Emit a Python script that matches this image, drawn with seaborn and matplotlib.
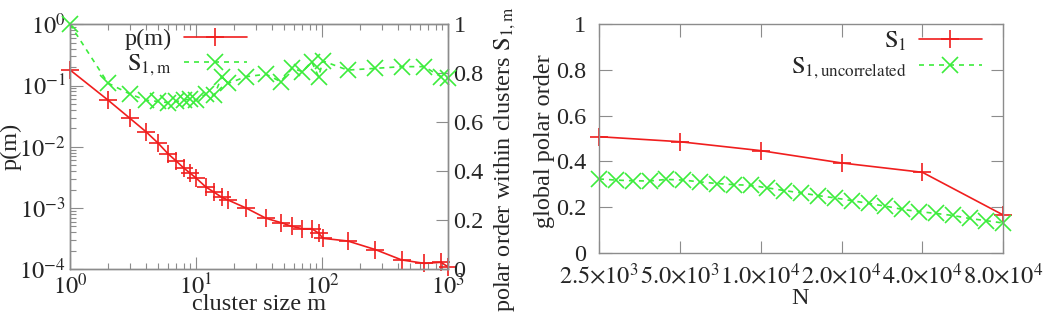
import matplotlib
matplotlib.use("Agg")
import matplotlib.pyplot as plt
import seaborn as sns
import pandas as pd
from matplotlib.ticker import FixedLocator, FixedFormatter, LogLocator, NullFormatter

# ---------------- data ----------------
m_size = [1, 2, 3, 4, 5, 6, 7, 8, 9, 10, 12, 14, 16, 18, 25, 36, 47, 58, 70, 83,
          94, 102, 160, 265, 430, 650, 880, 1000]
p_m = [0.18, 0.058, 0.029, 0.0177, 0.0115, 0.0077, 0.0058, 0.0045, 0.0037, 0.0031,
       0.0022, 0.0018, 0.0015, 0.00135, 0.001, 0.00068, 0.00058, 0.0005, 0.00046,
       0.00046, 0.00039, 0.00032, 0.00029, 0.00021, 0.000142, 0.000125, 0.00013, 0.00011]
s1_m = [1.0, 0.76, 0.715, 0.69, 0.685, 0.68, 0.685, 0.69, 0.695, 0.69, 0.715, 0.71,
        0.786, 0.759, 0.786, 0.796, 0.766, 0.82, 0.807, 0.847, 0.786, 0.85, 0.813,
        0.82, 0.827, 0.827, 0.786, 0.78]

N_main = [2500, 5000, 10000, 20000, 40000, 80000]
S1 = [0.508, 0.486, 0.447, 0.393, 0.352, 0.165]
N_unc = [2500, 2888, 3337, 3856, 4455, 5146, 5946, 6870, 7937, 9170, 10595, 12241,
         14142, 16339, 18877, 21810, 25198, 29113, 33636, 38861, 44898, 51874,
         59932, 69243, 80000]
S1_unc = [0.323, 0.318, 0.315, 0.314, 0.321, 0.318, 0.31, 0.303, 0.298, 0.295,
          0.284, 0.272, 0.262, 0.25, 0.24, 0.228, 0.216, 0.204, 0.19, 0.18, 0.172,
          0.163, 0.15, 0.14, 0.13]

N_ticklabels = [r"$2.5{\times}10^{3}$", r"$5.0{\times}10^{3}$", r"$1.0{\times}10^{4}$",
                r"$2.0{\times}10^{4}$", r"$4.0{\times}10^{4}$", r"$8.0{\times}10^{4}$"]
logy_ticklabels = [r"$10^{-4}$", r"$10^{-3}$", r"$10^{-2}$", r"$10^{-1}$", r"$10^{0}$"]
logx_ticklabels = [r"$10^{0}$", r"$10^{1}$", r"$10^{2}$", r"$10^{3}$"]
lin_ticklabels = ["0", "0.2", "0.4", "0.6", "0.8", "1"]

# ---------------- style ----------------
sns.set_style("ticks")
plt.rcParams["font.family"] = ["Liberation Serif", "DejaVu Serif"]
plt.rcParams["mathtext.fontset"] = "stix"
plt.rcParams["axes.unicode_minus"] = False

RED = "#f01e1e"
GREEN = "#3cec3c"
SPINE = "#8c8c8c"
FS = 17.5

fig = plt.figure(figsize=(10.49, 3.17), dpi=100)
ax1 = fig.add_axes([0.0667, 0.1505, 0.3603, 0.773])
ax2 = ax1.twinx()
ax3 = fig.add_axes([0.571, 0.2028, 0.3854, 0.7205])

df_p = pd.DataFrame({"m": m_size, "p": p_m, "S": s1_m})
df_n = pd.DataFrame({"N": N_main, "S1": S1})
df_u = pd.DataFrame({"N": N_unc, "S": S1_unc})

red_kw = dict(color=RED, marker="+", markersize=13, markeredgewidth=1.2,
              markeredgecolor=RED, lw=1.2, clip_on=False, legend=False)
green_kw = dict(color=GREEN, marker="x", markersize=11, markeredgewidth=1.2,
                markeredgecolor=GREEN, lw=1.2, clip_on=False, legend=False)

# ---------------- left panel ----------------
sns.lineplot(data=df_p, x="m", y="p", ax=ax1, **red_kw)
sns.lineplot(data=df_p, x="m", y="S", ax=ax2, **green_kw)
ax2.lines[-1].set_dashes((3, 3))

ax1.set_xscale("log")
ax1.set_yscale("log")
ax1.set_xlim(1, 1000)
ax1.set_ylim(1e-4, 1)
ax2.set_ylim(0, 1)

ax1.xaxis.set_major_locator(FixedLocator([1, 10, 100, 1000]))
ax1.xaxis.set_major_formatter(FixedFormatter(logx_ticklabels))
ax1.xaxis.set_minor_locator(LogLocator(base=10, subs=range(2, 10)))
ax1.xaxis.set_minor_formatter(NullFormatter())
ax1.yaxis.set_major_locator(FixedLocator([1e-4, 1e-3, 1e-2, 1e-1, 1]))
ax1.yaxis.set_major_formatter(FixedFormatter(logy_ticklabels))
ax1.yaxis.set_minor_locator(LogLocator(base=10, subs=range(2, 10)))
ax1.yaxis.set_minor_formatter(NullFormatter())
ax2.yaxis.set_major_locator(FixedLocator([0, 0.2, 0.4, 0.6, 0.8, 1.0]))
ax2.yaxis.set_major_formatter(FixedFormatter(lin_ticklabels))

ax1.tick_params(which="both", direction="in", top=True, right=False, color=SPINE,
                labelsize=FS, width=0.8)
ax1.tick_params(which="major", length=9)
ax1.tick_params(which="minor", length=4.5)
ax1.tick_params(axis="x", pad=3)
ax1.tick_params(axis="y", pad=3)
ax2.tick_params(which="both", direction="in", color=SPINE, labelsize=FS, width=0.8,
                length=9, pad=4)

ax1.set_xlabel("cluster size m", fontsize=FS)
ax1.set_ylabel("p(m)", fontsize=FS)
ax2.set_ylabel(r"polar order within clusters $\mathrm{S}_{1,\mathrm{m}}$", fontsize=FS)
ax1.xaxis.set_label_coords(0.5, -0.1)
ax1.yaxis.set_label_coords(-0.127, 0.5)
ax2.yaxis.set_label_coords(1.118, 0.45)

for a in (ax1, ax2):
    for s in a.spines.values():
        s.set_color(SPINE)
        s.set_linewidth(1.0)
        s.set_visible(True)

h1 = ax1.lines[0]
h2 = ax2.lines[0]
ax2.legend([h1, h2], ["p(m)", r"$\mathrm{S}_{1,\mathrm{m}}$"], loc="upper right",
           bbox_to_anchor=(247 / 1049, 1 - 28 / 317), bbox_transform=fig.transFigure,
           frameon=False, markerfirst=False, fontsize=FS, handlelength=2.6,
           borderaxespad=0, borderpad=0, labelspacing=0.1, handletextpad=0.5)

# ---------------- right panel ----------------
sns.lineplot(data=df_n, x="N", y="S1", ax=ax3, **red_kw)
sns.lineplot(data=df_u, x="N", y="S", ax=ax3, **green_kw)
ax3.lines[-1].set_dashes((3, 3))

ax3.set_xscale("log", base=2)
ax3.set_xlim(2500, 80000)
ax3.set_ylim(0, 1)
ax3.xaxis.set_major_locator(FixedLocator(N_main))
ax3.xaxis.set_major_formatter(FixedFormatter(N_ticklabels))
ax3.xaxis.set_minor_locator(FixedLocator([]))
ax3.yaxis.set_major_locator(FixedLocator([0, 0.2, 0.4, 0.6, 0.8, 1.0]))
ax3.yaxis.set_major_formatter(FixedFormatter(lin_ticklabels))
ax3.tick_params(which="both", direction="in", top=True, right=True, color=SPINE,
                labelsize=FS, width=0.8, length=9)
ax3.tick_params(axis="x", pad=7)
ax3.tick_params(axis="y", pad=9)
for s in ax3.spines.values():
    s.set_color(SPINE)
    s.set_linewidth(1.0)
    s.set_visible(True)

ax3.set_xlabel("N", fontsize=FS)
ax3.set_ylabel("global polar order", fontsize=FS)
ax3.xaxis.set_label_coords(0.497, -0.155)
ax3.yaxis.set_label_coords(-0.11, 0.49)

ax3.legend([ax3.lines[0], ax3.lines[1]],
           [r"$\mathrm{S}_{1}$", r"$\mathrm{S}_{1,\mathrm{uncorrelated}}$"],
           loc="upper right", bbox_to_anchor=(982 / 1049, 1 - 30 / 317),
           bbox_transform=fig.transFigure, frameon=False, markerfirst=False,
           fontsize=FS, handlelength=2.6, borderaxespad=0, borderpad=0,
           labelspacing=0.1, handletextpad=0.5)

fig.savefig("out.png", dpi=100)
